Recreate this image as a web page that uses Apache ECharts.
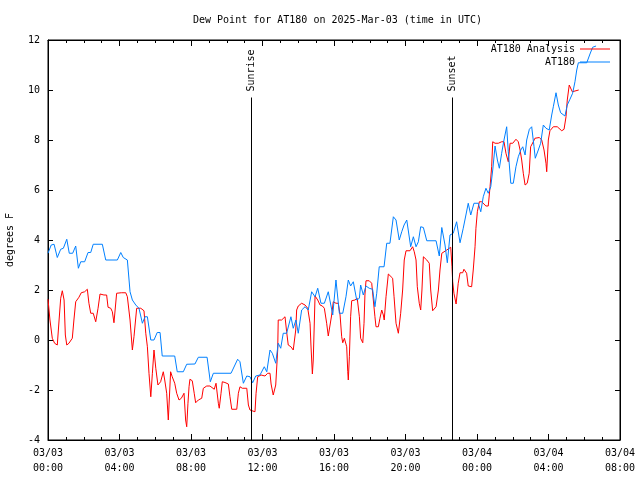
<!DOCTYPE html>
<html><head><meta charset="utf-8">
<script src="https://cdn.jsdelivr.net/npm/echarts@6/dist/echarts.min.js"></script>
<style>html,body{margin:0;padding:0;background:#fff}#c{width:640px;height:480px}</style>
</head><body><div id="c"></div>
<script>
const chartTitle = 'Dew Point for AT180 on 2025-Mar-03 (time in UTC)';
const yAxisName = 'degrees F';
const seriesNames = ['AT180 Analysis', 'AT180'];
const xTickLabels = ['03/03\n00:00','03/03\n04:00','03/03\n08:00','03/03\n12:00','03/03\n16:00','03/03\n20:00','03/04\n00:00','03/04\n04:00','03/04\n08:00'];
const sunriseHour = 11.36;
const sunsetHour = 22.60;
const markerTop = 9.7;

// hours since 2025-03-03 00:00 UTC
const analysisHours = [0.00,0.11,0.24,0.37,0.52,0.62,0.71,0.80,0.90,0.97,1.05,1.17,1.36,1.45,1.55,1.73,1.86,2.05,2.20,2.29,2.39,2.53,2.67,2.80,2.91,3.13,3.28,3.36,3.51,3.60,3.69,3.84,4.10,4.35,4.44,4.59,4.72,4.81,4.96,5.19,5.37,5.47,5.56,5.65,5.75,5.84,5.93,6.03,6.15,6.30,6.45,6.53,6.64,6.73,6.86,6.95,7.09,7.20,7.33,7.46,7.61,7.70,7.76,7.83,7.89,7.94,8.07,8.18,8.26,8.41,8.60,8.69,8.88,9.06,9.30,9.40,9.53,9.58,9.68,9.75,9.90,10.09,10.18,10.28,10.56,10.65,10.74,10.87,10.98,11.12,11.21,11.30,11.58,11.64,11.73,11.92,12.14,12.29,12.42,12.48,12.60,12.74,12.85,12.88,13.07,13.26,13.35,13.44,13.59,13.72,13.86,13.91,14.00,14.19,14.38,14.53,14.66,14.71,14.79,14.84,14.94,15.09,15.22,15.35,15.46,15.59,15.68,15.87,15.96,16.11,16.24,16.34,16.43,16.49,16.58,16.71,16.77,16.80,16.86,16.93,16.99,17.17,17.30,17.42,17.49,17.61,17.68,17.73,17.79,17.97,18.11,18.20,18.29,18.35,18.48,18.57,18.67,18.76,18.81,18.91,19.04,19.13,19.28,19.36,19.47,19.60,19.69,19.73,19.84,19.93,20.03,20.25,20.40,20.49,20.59,20.66,20.77,20.85,20.92,21.00,21.19,21.33,21.41,21.52,21.71,21.84,21.93,22.03,22.12,22.31,22.39,22.53,22.60,22.64,22.71,22.83,22.95,23.05,23.20,23.27,23.33,23.42,23.51,23.70,23.79,23.89,23.94,24.02,24.13,24.26,24.35,24.50,24.63,24.73,24.82,24.88,25.01,25.19,25.38,25.51,25.62,25.75,25.85,26.00,26.18,26.31,26.41,26.50,26.59,26.69,26.81,26.92,27.00,27.15,27.24,27.34,27.49,27.62,27.75,27.86,27.90,27.99,28.08,28.27,28.49,28.60,28.74,28.87,28.98,29.05,29.16,29.27,29.33,29.41,29.69];
const analysisValues = [1.63,0.8,0.07,-0.13,-0.2,0.8,1.67,1.97,1.6,0.2,-0.2,-0.13,0.07,0.8,1.53,1.71,1.89,1.93,2.03,1.47,1.07,1.07,0.73,1.27,1.84,1.8,1.8,1.31,1.27,1.13,0.69,1.87,1.89,1.89,1.73,0.8,-0.4,0.13,1.27,1.27,1.17,0.27,-0.27,-1.33,-2.27,-1.33,-0.4,-1.13,-1.8,-1.67,-1.27,-1.6,-2.13,-3.2,-1.27,-1.47,-1.73,-2.13,-2.4,-2.33,-2.13,-3.2,-3.47,-2.53,-1.87,-1.57,-1.63,-2.13,-2.51,-2.4,-2.33,-1.93,-1.84,-1.84,-1.97,-1.73,-2.53,-2.73,-2.13,-1.67,-1.7,-1.76,-2.27,-2.77,-2.77,-2.13,-1.87,-1.93,-1.87,-1.93,-2.6,-2.8,-2.87,-2.13,-1.47,-1.4,-1.44,-1.33,-1.33,-1.76,-2.2,-1.8,-0.4,0.8,0.8,0.93,0.33,-0.2,-0.27,-0.4,0.4,1.2,1.36,1.47,1.4,1.27,0.67,-0.2,-1.36,-0.8,1.76,1.6,1.4,1.36,1.27,0.67,0.16,1.0,1.53,1.47,1.47,1.0,0.13,-0.11,0.07,-0.27,-1.27,-1.6,-0.67,0.93,1.57,1.6,1.67,0.93,0.07,-0.11,0.67,1.8,2.37,2.37,2.27,1.6,0.93,0.53,0.53,0.87,1.2,1.0,0.8,1.73,2.64,2.67,2.47,1.73,0.67,0.27,0.2,1.07,2.0,3.2,3.57,3.57,3.73,3.53,3.2,2.13,1.47,1.2,2.0,3.33,3.2,3.07,2.0,1.17,1.33,2.0,2.8,3.47,3.47,3.6,3.6,3.71,2.93,2.33,1.87,1.44,2.27,2.69,2.69,2.83,2.87,2.67,2.16,2.13,2.8,3.73,4.47,5.13,5.53,5.53,5.47,5.36,5.36,6.13,6.93,7.93,7.87,7.87,7.93,7.93,7.47,7.13,7.87,7.87,8.03,7.93,7.6,7.2,6.67,6.2,6.27,6.67,7.73,7.93,8.07,8.13,8.1,8.0,7.6,7.07,6.73,8.0,8.37,8.53,8.53,8.47,8.37,8.43,8.93,9.6,10.2,10.13,9.93,9.97,10.0];

const obsHours = [0.00,0.18,0.34,0.52,0.71,0.86,1.05,1.19,1.38,1.55,1.70,1.83,2.05,2.24,2.39,2.53,3.04,3.23,3.88,4.07,4.21,4.44,4.59,4.72,4.91,5.09,5.28,5.43,5.56,5.75,5.93,6.11,6.27,6.39,7.09,7.23,7.57,7.76,8.22,8.41,8.90,9.08,9.25,10.24,10.61,10.74,10.93,11.12,11.30,11.45,11.62,11.86,12.10,12.24,12.42,12.55,12.74,12.88,13.02,13.16,13.35,13.59,13.72,13.87,14.00,14.19,14.38,14.56,14.75,14.94,15.09,15.27,15.46,15.68,15.93,16.11,16.30,16.49,16.67,16.80,16.93,17.08,17.27,17.42,17.49,17.64,17.79,17.97,18.16,18.29,18.39,18.53,18.80,18.95,19.13,19.32,19.47,19.65,19.79,19.92,20.07,20.16,20.29,20.44,20.59,20.72,20.85,21.00,21.19,21.71,21.89,22.03,22.21,22.34,22.49,22.67,22.86,23.05,23.23,23.38,23.51,23.65,23.83,23.89,24.07,24.21,24.35,24.50,24.63,24.77,24.88,25.01,25.14,25.25,25.38,25.51,25.66,25.75,25.89,26.03,26.18,26.31,26.45,26.56,26.69,26.78,26.93,27.06,27.19,27.26,27.43,27.56,27.71,27.86,28.04,28.18,28.27,28.42,28.55,28.68,28.92,29.05,29.20,29.35,29.48,29.58,29.67,30.14,30.32,30.47,30.66];
const obsValues = [3.47,3.8,3.83,3.3,3.63,3.67,4.03,3.47,3.47,3.76,2.87,3.13,3.13,3.5,3.5,3.83,3.83,3.2,3.2,3.5,3.3,3.2,1.93,1.6,1.4,1.27,0.67,0.93,0.93,0.0,0.0,0.3,0.3,-0.64,-0.64,-1.27,-1.27,-0.97,-0.96,-0.69,-0.69,-1.67,-1.33,-1.33,-0.77,-0.87,-1.73,-1.44,-1.47,-1.71,-1.44,-1.4,-1.07,-1.27,-0.4,-0.53,-0.93,-0.13,-0.33,0.27,0.27,0.93,0.47,0.8,0.27,1.2,1.33,1.2,1.93,1.73,2.07,1.47,1.47,1.93,1.0,2.4,1.07,1.07,1.73,2.4,2.16,2.33,1.6,1.67,2.2,1.8,2.16,2.07,2.03,1.33,1.87,2.93,2.93,3.87,3.87,4.93,4.8,4.0,4.33,4.6,4.8,4.8,3.73,4.13,3.73,3.93,4.53,4.5,3.97,3.97,3.36,4.5,3.8,3.09,4.2,4.27,4.73,3.89,4.47,5.0,5.47,5.0,5.47,5.49,5.47,5.13,5.73,6.07,5.87,6.13,6.8,7.76,7.2,6.87,7.47,8.0,8.53,7.53,6.27,6.27,6.93,7.33,7.6,7.73,7.4,8.0,8.43,8.53,7.73,7.27,7.6,7.87,8.6,8.47,8.4,9.0,9.33,9.89,9.4,9.09,8.96,9.4,9.63,9.87,10.33,10.8,11.09,11.09,11.44,11.71,11.76];

const FONT = 'DejaVu Sans Mono';
const zip = (a, b) => a.map((h, i) => [h, b[i]]);

function marker(hour, text) {
  return [
    [{ coord: [hour, -4] }, { coord: [hour, markerTop] }],
    [{ coord: [hour, markerTop], lineStyle: { color: 'rgba(0,0,0,0)', width: 0 },
       label: { show: true, formatter: text, position: 'insideStart', distance: 6,
                color: '#000', fontFamily: FONT, fontSize: 10 } },
     { coord: [hour, 12] }]
  ];
}

const LEGEND_ICON = 'path://M0,4.5L30,4.5L30,5.5L0,5.5Z';
const chart = echarts.init(document.getElementById('c'), null, { renderer: 'canvas' });
const axisCommon = {
  type: 'value', min: 0, max: 32, interval: 4,
  axisLine: { show: true, onZero: false, lineStyle: { color: '#000', width: 1 } },
  axisTick: { show: true, inside: true, length: 6, lineStyle: { color: '#000' } },
  minorTick: { show: true, splitNumber: 4, length: 3, lineStyle: { color: '#000' } },
  splitLine: { show: false }
};
chart.setOption({
  animation: false,
  backgroundColor: '#fff',
  title: {
    text: chartTitle, left: 188, top: 10,
    textStyle: { fontFamily: FONT, fontSize: 10, fontWeight: 'normal', color: '#000' }
  },
  legend: {
    orient: 'vertical', right: 30, top: 44, align: 'right', padding: 0,
    itemWidth: 30, itemHeight: 10, itemGap: 3,
    textStyle: { fontFamily: FONT, fontSize: 10, color: '#000' },
    data: [{ name: seriesNames[0], icon: LEGEND_ICON, itemStyle: { color: '#ff0000' } },
           { name: seriesNames[1], icon: LEGEND_ICON, itemStyle: { color: '#0080ff' } }]
  },
  grid: { left: 48, right: 20, top: 40, bottom: 40, show: true, borderColor: '#000', borderWidth: 1,
          containLabel: false, outerBoundsMode: 'none' },
  xAxis: [
    Object.assign({}, axisCommon, {
      position: 'bottom',
      axisLabel: { show: true, margin: 6, lineHeight: 15, color: '#000', fontFamily: FONT, fontSize: 10,
        formatter: v => xTickLabels[Math.round(v / 4)] }
    }),
    Object.assign({}, axisCommon, { position: 'top', axisLabel: { show: false } })
  ],
  yAxis: [
    {
      type: 'value', min: -4, max: 12, interval: 2,
      name: yAxisName, nameLocation: 'middle', nameGap: 33, nameRotate: 90,
      nameTextStyle: { fontFamily: FONT, fontSize: 10, color: '#000' },
      axisLine: { show: true, onZero: false, lineStyle: { color: '#000' } },
      axisTick: { show: true, inside: true, length: 5, lineStyle: { color: '#000' } },
      axisLabel: { color: '#000', fontFamily: FONT, fontSize: 10, margin: 8 },
      splitLine: { show: false }
    },
    {
      type: 'value', min: -4, max: 12, interval: 2, position: 'right',
      axisLine: { show: true, onZero: false, lineStyle: { color: '#000' } },
      axisTick: { show: true, inside: true, length: 5, lineStyle: { color: '#000' } },
      axisLabel: { show: false }, splitLine: { show: false }
    }
  ],
  series: [
    {
      name: seriesNames[0], type: 'line', symbol: 'none', color: '#ff0000',
      lineStyle: { color: '#ff0000', width: 1 },
      data: zip(analysisHours, analysisValues),
      markLine: {
        silent: true, symbol: ['none', 'none'], animation: false,
        lineStyle: { color: '#000', width: 1, type: 'solid' },
        label: { show: false },
        data: marker(sunriseHour, 'Sunrise').concat(marker(sunsetHour, 'Sunset'))
      }
    },
    {
      name: seriesNames[1], type: 'line', symbol: 'none', color: '#0080ff',
      lineStyle: { color: '#0080ff', width: 1 },
      data: zip(obsHours, obsValues)
    }
  ]
});
</script></body></html>
